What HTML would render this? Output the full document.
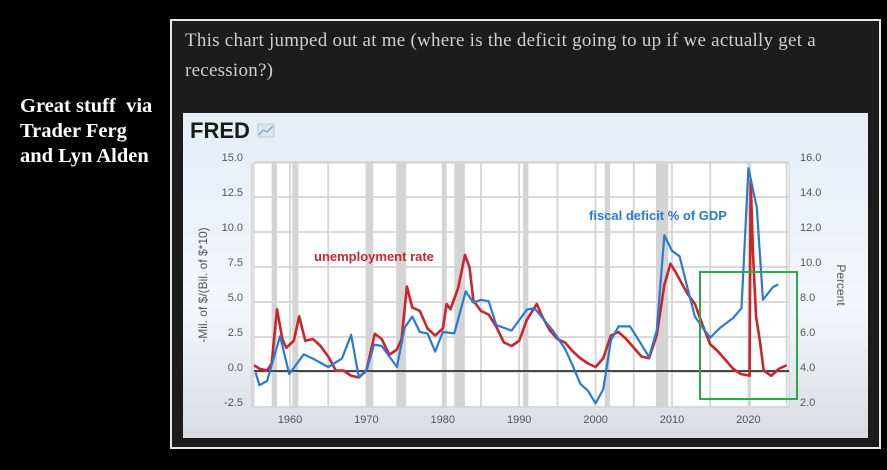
<!DOCTYPE html>
<html><head><meta charset="utf-8">
<style>
html,body{margin:0;padding:0;background:#000;width:887px;height:470px;overflow:hidden;font-family:"Liberation Sans",sans-serif}
#credit{position:absolute;left:20px;top:94px;color:#fff;font:bold 20.5px/25px "Liberation Serif",serif}
#box{position:absolute;left:170px;top:19px;width:707px;height:426px;border:2px solid #e8e8e8;background:#1c1c1c}
#caption{position:absolute;left:13px;top:5px;width:660px;color:#cfcfcf;font:19px/30px "Liberation Serif",serif;letter-spacing:0.25px}
svg{position:absolute;left:0;top:0}
</style></head><body>
<div id="credit">Great stuff&nbsp; via<br>Trader Ferg<br>and Lyn Alden</div>
<div id="box">
<div id="caption">This chart jumped out at me (where is the deficit going to up if we actually get a<br>recession?)</div>
</div>
<svg id="chart" width="887" height="470">
<defs><linearGradient id="bg" x1="0" y1="0" x2="0" y2="1"><stop offset="0" stop-color="#e6edf6"/><stop offset="0.6" stop-color="#f3f6fa"/><stop offset="1" stop-color="#d9dde3"/></linearGradient></defs>
<rect x="183" y="113" width="685" height="325" fill="url(#bg)"/>
<text x="190" y="138" font-family="Liberation Sans" font-weight="bold" font-size="22" fill="#1a1a1a">FRED</text>
<rect x="258" y="124" width="16" height="13" fill="#dde6ef" stroke="#b8c8d8"/>
<polyline points="259,135 263,130 267,132 273,126" fill="none" stroke="#6aa0d0" stroke-width="1.2"/>
<g id="plot"></g>
</svg>
<script>
const years=[1955.5,1956,1957,1958.7,1959.9,1961.8,1963,1965,1966.8,1968,1969,1970,1971,1972,1974,1975,1976,1977,1978,1979,1980,1981.5,1983,1984,1985,1986,1987,1989,1991,1992,1994.4,1996,1997,1998,1999,2000,2001,2002,2003,2004.5,2006,2007,2008,2009,2010,2011,2012,2013,2014.3,2015,2016.3,2018,2019.1,2020,2021.1,2021.9,2023.2,2023.9];
const deficit=[-0.4,-1.3,-1.0,2.2,-0.5,0.9,0.6,0.0,0.6,2.3,-0.7,-0.3,1.6,1.5,0.0,2.8,3.6,2.5,2.4,1.1,2.5,2.4,5.4,4.6,4.8,4.7,3.0,2.6,4.1,4.2,2.6,1.3,0.1,-1.2,-1.7,-2.6,-1.6,1.9,2.9,2.9,1.6,0.7,2.6,9.4,8.3,7.9,5.7,3.6,2.6,2.1,2.8,3.5,4.2,14.2,11.4,4.8,5.7,5.9];
const uYears=[1955.3,1956,1957,1957.6,1958.3,1959,1959.5,1960,1960.5,1961.2,1962,1963,1964,1965,1966,1967,1968,1969,1970,1971.1,1972,1973,1974,1974.6,1975.3,1976,1977,1978,1979,1980,1980.5,1981,1982,1982.9,1983.5,1984,1985,1986,1987,1988,1989,1990,1991,1992.3,1993,1994,1995,1996,1997,1998,1999,2000,2001,2002,2003,2004,2005,2006,2007,2008,2009,2009.8,2010.5,2011,2012,2013,2014,2015,2016,2017,2018,2019,2020.15,2020.3,2020.6,2021,2021.5,2022,2023,2024,2025];
const unemp=[4.1,3.9,3.8,4.2,7.3,5.6,5.1,5.3,5.5,6.9,5.5,5.6,5.2,4.6,3.8,3.8,3.5,3.4,3.8,5.9,5.6,4.7,5.0,5.6,8.6,7.4,7.2,6.2,5.8,6.2,7.6,7.3,8.5,10.4,9.7,7.8,7.2,7.0,6.3,5.4,5.2,5.5,6.7,7.6,6.9,6.1,5.6,5.4,4.9,4.5,4.2,4.0,4.5,5.8,6.0,5.6,5.1,4.6,4.5,5.8,8.7,9.9,9.4,9.0,8.2,7.6,6.4,5.3,4.9,4.4,3.9,3.6,3.5,14.7,10.5,6.9,5.5,3.8,3.5,3.9,4.1];
const recStart=[1957.6,1960.3,1969.9,1973.9,1980.0,1981.5,1990.5,2001.2,2007.9,2020.1];
const recEnd=[1958.3,1961.1,1970.9,1975.2,1980.5,1982.9,1991.2,2001.9,2009.5,2020.3];
const xTicks=[1960,1970,1980,1990,2000,2010,2020];
const leftTicks=[15.0,12.5,10.0,7.5,5.0,2.5,0.0,-2.5];
const rightTicks=[16.0,14.0,12.0,10.0,8.0,6.0,4.0,2.0];

const X=y=>290+(y-1960)*7.64;
const YL=v=>367-v*14;
const YR=v=>367-(v-4)*17.5;
const PL=254,PR=789,PT=163,PB=407;
const NS="http://www.w3.org/2000/svg";
const g=document.getElementById('plot');
function mk(t,a){const e=document.createElementNS(NS,t);for(const k in a)e.setAttribute(k,a[k]);g.appendChild(e);return e;}
const pa=mk('rect',{x:PL,y:PT,width:PR-PL,height:PB-PT,fill:'#fff',stroke:'#ccc'});


for(let i=0;i<recStart.length;i++){
 const r=mk('rect',{x:X(recStart[i]),y:PT,width:Math.max(2,X(recEnd[i])-X(recStart[i])),height:PB-PT,fill:'#d4d4d4'});
 
 
}
for(let y=1955;y<=2025;y+=5){const l=mk('line',{x1:X(y),x2:X(y),y1:PT,y2:PB,stroke:'#d4d4d4','stroke-width':1.8});
 
 }
leftTicks.forEach(v=>{
 const l=mk('line',{x1:PL,x2:PR,y1:YL(v)+5,y2:YL(v)+5,stroke:'#d4d4d4','stroke-width':1.8});
 
 
 const t=mk('text',{x:243,y:YL(v)+4,'text-anchor':'end','font-size':11,fill:'#555'});t.textContent=v.toFixed(1);
 
 
});
rightTicks.forEach(v=>{
 const t=mk('text',{x:800,y:YR(v)+4,'font-size':11,fill:'#555'});t.textContent=v.toFixed(1);
 
 
});
xTicks.forEach(y=>{
 const t=mk('text',{x:X(y),y:423,'text-anchor':'middle','font-size':11,fill:'#555'});t.textContent=y;
 
 
});
const zl=mk('line',{x1:PL,x2:PR,y1:371,y2:371,stroke:'#111','stroke-width':1.5});


const red=mk('polyline',{points:uYears.map((y,i)=>X(y)+','+YR(unemp[i])).join(' '),fill:'none',stroke:'#c8262c','stroke-width':2.6,'stroke-linejoin':'round'});


const blue=mk('polyline',{points:years.map((y,i)=>X(y)+','+YL(deficit[i])).join(' '),fill:'none',stroke:'#2a7ad0','stroke-width':2.2,'stroke-linejoin':'round'});


const gb=mk('rect',{x:700,y:272,width:97,height:127,fill:'none',stroke:'#2ea84a','stroke-width':2});


let t=mk('text',{x:314,y:261,'font-size':13,'font-weight':'bold',fill:'#c8262c'});t.textContent='unemployment rate';


t=mk('text',{x:589,y:220,'font-size':13,'font-weight':'bold',fill:'#2a7ad0'});t.textContent='fiscal deficit % of GDP';


t=mk('text',{x:207,y:285,'font-size':12,fill:'#555','text-anchor':'middle',transform:'rotate(-90 207 285)'});t.textContent='-Mil. of $/(Bil. of $*10)';


t=mk('text',{x:837,y:285,'font-size':12,fill:'#555','text-anchor':'middle',transform:'rotate(90 837 285)'});t.textContent='Percent';


</script>
</body></html>
